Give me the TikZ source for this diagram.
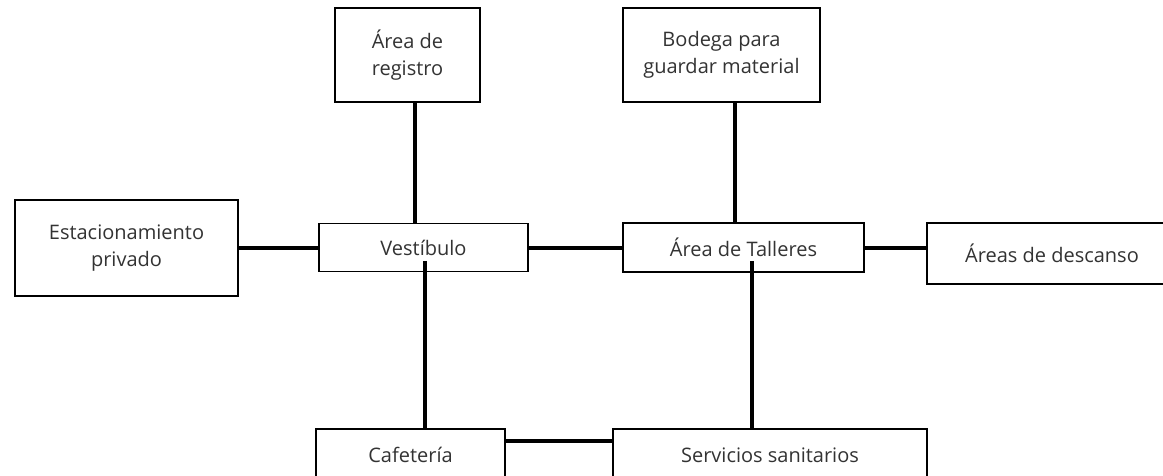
\documentclass[tikz,border=0pt]{standalone}
\usepackage{fontspec}
\setmainfont{Open Sans}
\begin{document}
\begin{tikzpicture}[x=1pt,y=-1pt,
  box/.style={draw=black,line width=1.6pt,fill=white,inner sep=0pt,align=center,
    font=\fontsize{20}{27}\selectfont,text=black!80},
  link/.style={line width=4pt}]
\useasboundingbox (0,0) rectangle (1163,476);
\node[box,minimum width=145pt,minimum height=94pt] (reg) at (407.5,55) {Área de\\registro};
\node[box,minimum width=197pt,minimum height=94pt] (bod) at (721.5,55) {Bodega para\\guardar material};
\node[box,minimum width=223pt,minimum height=96pt] (est) at (126.5,248) {Estacionamiento\\privado};
\node[box,minimum width=209pt,minimum height=48pt] (ves) at (423.5,247.5) {Vestíbulo};
\node[box,minimum width=241pt,minimum height=49pt] (tal) at (743.5,247.5) {Área de Talleres};
\node[box,minimum width=250pt,minimum height=61pt] (des) at (1052,253.5) {Áreas de descanso};
\node[box,minimum width=189pt,minimum height=52pt] (caf) at (410.5,455) {Cafetería};
\node[box,minimum width=314pt,minimum height=52pt] (ser) at (770,455) {Servicios sanitarios};
\draw[link] ([xshift=7.5pt]reg.south) -- ([xshift=7.5pt]reg.south |- ves.north);
\draw[link] ([xshift=13.5pt]bod.south) -- ([xshift=13.5pt]bod.south |- tal.north);
\draw[link] (est.east |- ves.west) -- (ves.west);
\draw[link] (ves.east) -- (tal.west);
\draw[link] (tal.east) -- (des.west |- tal.east);
\draw[link] ([xshift=1.5pt,yshift=11.5pt]ves.south) -- ([xshift=1.5pt]ves.south |- caf.north);
\draw[link] ([xshift=8.5pt,yshift=11.5pt]tal.south) -- ([xshift=8.5pt]tal.south |- ser.north);
\draw[link] ([yshift=14pt]caf.east) -- ([yshift=14pt]caf.east -| ser.west);
\end{tikzpicture}
\end{document}
